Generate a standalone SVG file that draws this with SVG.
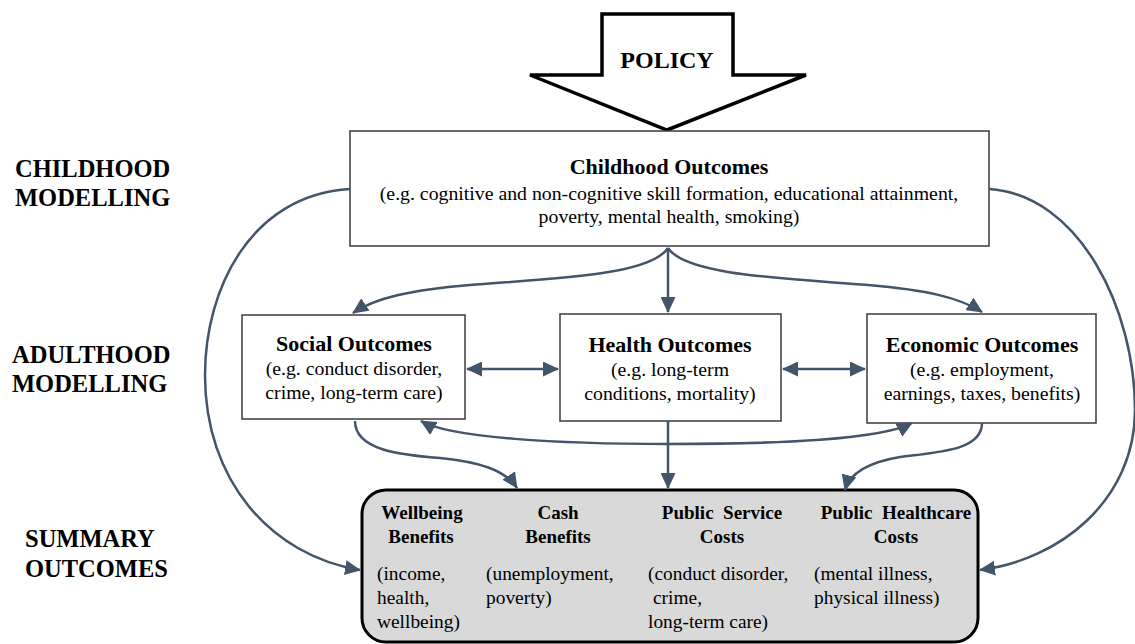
<svg xmlns="http://www.w3.org/2000/svg" width="1135" height="644" viewBox="0 0 1135 644">
<style>
text{font-family:"Liberation Serif","Times New Roman",serif;fill:#000}
.lab{font-size:24.5px;font-weight:bold}
.ttl{font-size:22px;font-weight:bold;text-anchor:middle}
.sub{font-size:19.8px;text-anchor:middle}
.hd{font-size:19px;font-weight:bold;text-anchor:middle}
.bd{font-size:19.4px}
.box{fill:#fff;stroke:#3a3a3a;stroke-width:1.5}
.con{fill:none;stroke:#44546a;stroke-width:2.5}
</style>
<defs>
<marker id="ah" markerUnits="userSpaceOnUse" markerWidth="17" markerHeight="15" refX="15" refY="7.5" orient="auto-start-reverse">
<path d="M0,0 L16,7.5 L0,15 z" fill="#44546a"/>
</marker>
</defs>
<rect width="1135" height="644" fill="#fff"/>

<g id="labels">
<text class="lab" x="15" y="177">CHILDHOOD</text>
<text class="lab" x="15" y="206">MODELLING</text>
<text class="lab" x="12" y="363">ADULTHOOD</text>
<text class="lab" x="12" y="392">MODELLING</text>
<text class="lab" x="25" y="547">SUMMARY</text>
<text class="lab" x="25" y="577">OUTCOMES</text>
</g>

<g id="policy">
<polygon points="602,14 733,14 733,75 806,75 667,130 530,75 602,75" fill="#fff" stroke="#000" stroke-width="3.5" stroke-linejoin="miter"/>
<text x="667" y="68" style="font-size:24px;font-weight:bold;text-anchor:middle">POLICY</text>
</g>

<g id="childhood">
<rect class="box" x="350" y="131" width="639" height="115"/>
<text class="ttl" x="669" y="174">Childhood Outcomes</text>
<text class="sub" x="669" y="200">(e.g. cognitive and non-cognitive skill formation, educational attainment,</text>
<text class="sub" x="669" y="223">poverty, mental health, smoking)</text>
</g>

<g id="social">
<rect class="box" x="242" y="315" width="223" height="104"/>
<text class="ttl" x="354" y="351">Social Outcomes</text>
<text class="sub" x="354" y="375">(e.g. conduct disorder,</text>
<text class="sub" x="354" y="399">crime, long-term care)</text>
</g>

<g id="health">
<rect class="box" x="560" y="314" width="221" height="107"/>
<text class="ttl" x="670" y="352">Health Outcomes</text>
<text class="sub" x="670" y="376">(e.g. long-term</text>
<text class="sub" x="670" y="400">conditions, mortality)</text>
</g>

<g id="economic">
<rect class="box" x="867" y="314" width="229" height="109"/>
<text class="ttl" x="982" y="352">Economic Outcomes</text>
<text class="sub" x="982" y="376">(e.g. employment,</text>
<text class="sub" x="982" y="400">earnings, taxes, benefits)</text>
</g>

<g id="summary">
<rect x="362" y="490" width="616" height="152" rx="24" fill="#d9d9d9" stroke="#000" stroke-width="3"/>
<text class="hd" x="422" y="519">Wellbeing</text>
<text class="hd" x="421" y="543">Benefits</text>
<text class="hd" x="558" y="519">Cash</text>
<text class="hd" x="558" y="543">Benefits</text>
<text class="hd" x="722" y="519" xml:space="preserve">Public  Service</text>
<text class="hd" x="722" y="543">Costs</text>
<text class="hd" x="896" y="519" xml:space="preserve">Public  Healthcare</text>
<text class="hd" x="896" y="543">Costs</text>
<text class="bd" x="377" y="580">(income,</text>
<text class="bd" x="377" y="604">health,</text>
<text class="bd" x="377" y="628">wellbeing)</text>
<text class="bd" x="486" y="580">(unemployment,</text>
<text class="bd" x="486" y="604">poverty)</text>
<text class="bd" x="648" y="580">(conduct disorder,</text>
<text class="bd" x="653" y="604">crime,</text>
<text class="bd" x="648" y="628">long-term care)</text>
<text class="bd" x="814" y="580">(mental illness,</text>
<text class="bd" x="814" y="604">physical illness)</text>
</g>

<g id="connectors">
<path class="con" d="M668,248 C650,275 560,278 470,285 C410,290 375,298 353,313" marker-end="url(#ah)"/>
<path class="con" d="M668,248 L668,312" marker-end="url(#ah)"/>
<path class="con" d="M668,248 C686,275 780,278 868,285 C928,290 960,298 982,312" marker-end="url(#ah)"/>
<path class="con" d="M350,189 C250,195 205,290 205,375 C205,480 270,555 360,570" marker-end="url(#ah)"/>
<path class="con" d="M989,189 C1080,195 1135,310 1135,410 C1135,500 1060,560 980,570" marker-end="url(#ah)"/>
<path class="con" d="M467,369 L558,369" marker-start="url(#ah)" marker-end="url(#ah)"/>
<path class="con" d="M783,369 L865,369" marker-start="url(#ah)" marker-end="url(#ah)"/>
<path class="con" d="M421,421 C450,438 560,444 668,444 C780,444 880,440 912,423" marker-start="url(#ah)" marker-end="url(#ah)"/>
<path class="con" d="M355,421 C355,450 400,455 440,458 C480,462 505,470 517,488" marker-end="url(#ah)"/>
<path class="con" d="M668,421 L668,488" marker-end="url(#ah)"/>
<path class="con" d="M982,423 C982,450 940,452 900,457 C870,462 850,472 845,490" marker-end="url(#ah)"/>
</g>
</svg>
